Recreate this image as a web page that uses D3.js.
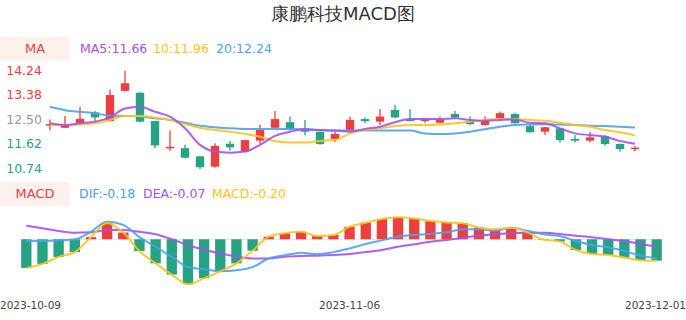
<!DOCTYPE html>
<html><head><meta charset="utf-8">
<script src="https://cdn.jsdelivr.net/npm/d3@7"></script>
<style>body{margin:0;background:#fff}svg{display:block;font-family:"DejaVu Sans",sans-serif}</style>
</head><body><svg id="c" width="686" height="320"></svg>
<script>
const title = "康鹏科技MACD图";
const dates = ["2023-10-09","2023-10-10","2023-10-11","2023-10-12","2023-10-13","2023-10-16","2023-10-17","2023-10-18","2023-10-19","2023-10-20",
"2023-10-23","2023-10-24","2023-10-25","2023-10-26","2023-10-27","2023-10-30","2023-10-31","2023-11-01","2023-11-02","2023-11-03",
"2023-11-06","2023-11-07","2023-11-08","2023-11-09","2023-11-10","2023-11-13","2023-11-14","2023-11-15","2023-11-16","2023-11-17",
"2023-11-20","2023-11-21","2023-11-22","2023-11-23","2023-11-24","2023-11-27","2023-11-28","2023-11-29","2023-11-30","2023-12-01"];
const open  = [12.34,12.23,12.39,12.78,12.47,13.55,13.48,12.47,11.50,11.50,11.21,10.84,11.66,11.38,11.77,12.23,12.43,12.21,12.09,11.83,
12.13,12.54,12.45,12.87,12.53,12.47,12.41,12.72,12.47,12.33,12.57,12.72,12.29,12.09,12.21,11.83,11.77,11.94,11.65,11.47];
const close = [12.36,12.33,12.55,12.60,13.40,13.82,12.45,11.60,11.55,11.16,10.82,11.58,11.53,11.79,12.15,12.54,12.18,12.09,11.65,12.01,
12.51,12.47,12.63,12.60,12.47,12.53,12.54,12.60,12.36,12.51,12.75,12.39,12.07,12.25,11.79,11.77,11.89,11.65,11.47,11.52];
const high  = [12.53,12.65,12.98,12.83,13.60,14.27,13.50,12.48,12.13,11.62,11.22,11.68,11.76,11.80,12.35,12.83,12.63,12.51,12.10,12.09,
12.63,12.60,12.90,13.04,12.89,12.55,12.63,12.83,12.63,12.63,12.81,12.77,12.35,12.26,12.23,11.97,12.08,11.97,11.67,11.58];
const low   = [12.13,12.22,12.38,12.45,12.45,13.53,12.42,11.50,11.41,11.14,10.75,10.80,11.41,11.36,11.64,12.22,12.13,11.95,11.62,11.72,
12.12,12.39,12.33,12.57,12.45,12.41,12.39,12.54,12.33,12.30,12.47,12.38,12.06,11.97,11.70,11.70,11.71,11.59,11.38,11.40];
const ma5  = [12.39,12.33,12.39,12.45,12.60,12.92,12.98,12.80,12.63,12.21,11.62,11.38,11.34,11.38,11.62,11.94,12.09,12.18,12.15,12.13,
12.09,12.19,12.27,12.43,12.54,12.54,12.54,12.57,12.51,12.48,12.51,12.53,12.41,12.39,12.21,12.03,11.97,11.91,11.76,11.66];
const ma10 = [12.33,12.33,12.35,12.39,12.51,12.65,12.65,12.60,12.51,12.36,12.23,12.15,12.09,12.01,11.91,11.76,11.70,11.70,11.76,11.79,
12.03,12.15,12.21,12.29,12.33,12.33,12.35,12.39,12.45,12.51,12.54,12.54,12.51,12.48,12.41,12.33,12.27,12.15,12.07,11.96];
const ma20 = [12.98,12.86,12.80,12.75,12.66,12.65,12.63,12.57,12.51,12.41,12.30,12.25,12.21,12.19,12.19,12.19,12.19,12.18,12.15,12.13,
12.13,12.13,12.13,12.13,12.13,12.03,12.01,12.03,12.09,12.18,12.27,12.33,12.35,12.36,12.35,12.33,12.30,12.29,12.27,12.24];
const dif  = [-0.016,-0.016,-0.01,0.0,0.07,0.165,0.135,0.02,-0.07,-0.165,-0.26,-0.28,-0.30,-0.29,-0.26,-0.18,-0.15,-0.125,-0.14,-0.12,
-0.085,-0.045,-0.01,0.025,0.04,0.05,0.065,0.093,0.093,0.08,0.108,0.08,0.047,0.03,-0.016,-0.053,-0.075,-0.11,-0.153,-0.18];
const dea  = [0.127,0.103,0.078,0.062,0.065,0.087,0.087,0.07,0.047,0.0,-0.053,-0.10,-0.13,-0.163,-0.18,-0.18,-0.163,-0.156,-0.153,-0.147,
-0.137,-0.12,-0.10,-0.07,-0.047,-0.022,-0.007,0.015,0.034,0.047,0.056,0.062,0.06,0.05,0.034,0.019,0.0,-0.016,-0.044,-0.07];
const macd = [-0.268,-0.23,-0.165,-0.12,0.02,0.153,0.063,-0.11,-0.225,-0.33,-0.42,-0.365,-0.30,-0.225,-0.107,0.025,0.056,0.07,0.03,0.04,
0.117,0.155,0.19,0.207,0.195,0.17,0.158,0.15,0.11,0.093,0.108,0.065,-0.005,-0.02,-0.10,-0.137,-0.147,-0.17,-0.196,-0.20];
const priceTicks = [14.24,13.38,12.50,11.62,10.74];
const dateLabels = ["2023-10-09","2023-11-06","2023-12-01"];

const RED="#ec4040", GREEN="#26a382", PURPLE="#a64ff2", YELLOW="#fcc419", BLUE="#4ba0f5";
const svg = d3.select("#c");
const idx = d3.range(dates.length);

svg.append("text").attr("x",343).attr("y",15).attr("text-anchor","middle").attr("dominant-baseline","middle")
  .attr("font-size",18).attr("fill","#333").text(title);

// ---- candle panel
const xk = d3.scaleBand().domain(idx).range([42.5,642.5]).paddingInner(0.44).paddingOuter(0.22);
const xc = i => xk(i) + xk.bandwidth()/2;
const yk = d3.scaleLinear().domain([10.74,14.24]).range([169.5,71.5]);

svg.append("rect").attr("x",0).attr("y",37).attr("width",70).attr("height",24).attr("fill","#fdf1ed");
svg.append("text").attr("x",35).attr("y",49).attr("text-anchor","middle").attr("dominant-baseline","middle")
  .attr("font-size",13).attr("fill",RED).text("MA");
const leg1 = [["MA5:"+ma5[39].toFixed(2),PURPLE,80],["10:"+ma10[39].toFixed(2),YELLOW,153],["20:"+ma20[39].toFixed(2),BLUE,216]];
leg1.forEach(d=>svg.append("text").attr("x",d[2]).attr("y",49).attr("dominant-baseline","middle")
  .attr("font-size",12.5).attr("fill",d[1]).text(d[0]));

const tickColor = v => v>12.6 ? RED : (v<12.4 ? GREEN : "#999");
svg.append("g").selectAll("text").data(priceTicks).join("text")
  .attr("x",42).attr("y",d=>yk(d)).attr("text-anchor","end").attr("dominant-baseline","middle")
  .attr("font-size",12.5).attr("fill",tickColor).text(d=>d.toFixed(2));

const cg = svg.append("g");
idx.forEach(i=>{
  const up = close[i] >= open[i];
  const col = up ? RED : GREEN;
  cg.append("line").attr("x1",xc(i)).attr("x2",xc(i)).attr("y1",yk(high[i])).attr("y2",yk(low[i]))
    .attr("stroke",col).attr("stroke-width",1.3);
  const t = yk(Math.max(open[i],close[i])), b = yk(Math.min(open[i],close[i]));
  cg.append("rect").attr("x",xk(i)).attr("width",xk.bandwidth()).attr("y",t).attr("height",Math.max(1.5,b-t)).attr("fill",col);
});
const lk = arr => d3.line().x((d,i)=>xc(i)).y(d=>yk(d)).curve(d3.curveMonotoneX)(arr);
[[ma20,BLUE],[ma10,YELLOW],[ma5,PURPLE]].forEach(([a,c])=>svg.append("path").attr("d",lk(a)).attr("fill","none")
  .attr("stroke",c).attr("stroke-width",2).attr("stroke-opacity",0.9));

// ---- MACD panel
const xm = d3.scaleBand().domain(idx).range([17.9,665.1]).paddingInner(0.36).paddingOuter(0.2);
const xmc = i => xm(i) + xm.bandwidth()/2;
const ym = d3.scaleLinear().domain([-0.42,0.17]).range([284.2,221.1]);

svg.append("rect").attr("x",0).attr("y",182).attr("width",70).attr("height",24).attr("fill","#fdf1ed");
svg.append("text").attr("x",35).attr("y",194).attr("text-anchor","middle").attr("dominant-baseline","middle")
  .attr("font-size",13).attr("fill",RED).text("MACD");
const leg2 = [["DIF:"+dif[39].toFixed(2),BLUE,79],["DEA:"+dea[39].toFixed(2),PURPLE,143],["MACD:"+macd[39].toFixed(2),YELLOW,212]];
leg2.forEach(d=>svg.append("text").attr("x",d[2]).attr("y",194).attr("dominant-baseline","middle")
  .attr("font-size",12.5).attr("fill",d[1]).text(d[0]));

svg.append("line").attr("x1",xm(0)).attr("x2",xm(39)+xm.bandwidth()).attr("y1",ym(0)).attr("y2",ym(0))
  .attr("stroke","#e3e3e3").attr("stroke-width",1);
svg.append("g").selectAll("rect").data(macd).join("rect")
  .attr("x",(d,i)=>xm(i)).attr("width",xm.bandwidth())
  .attr("y",d=>ym(Math.max(0,d))).attr("height",d=>Math.abs(ym(d)-ym(0)))
  .attr("fill",d=>d>=0?RED:GREEN);
const lm = arr => d3.line().x((d,i)=>xmc(i)).y(d=>ym(d)).curve(d3.curveMonotoneX)(arr);
[[dea,PURPLE],[dif,BLUE],[macd,YELLOW]].forEach(([a,c])=>svg.append("path").attr("d",lm(a)).attr("fill","none")
  .attr("stroke",c).attr("stroke-width",2).attr("stroke-opacity",0.9));

// date labels
const dl = [[dateLabels[0],0,"start"],[dateLabels[1],xmc(dates.indexOf(dateLabels[1])),"middle"],[dateLabels[2],686,"end"]];
dl.forEach(d=>svg.append("text").attr("x",d[1]).attr("y",306).attr("text-anchor",d[2]).attr("dominant-baseline","middle")
  .attr("font-size",10.5).attr("fill","#444").text(d[0]));
</script></body></html>
